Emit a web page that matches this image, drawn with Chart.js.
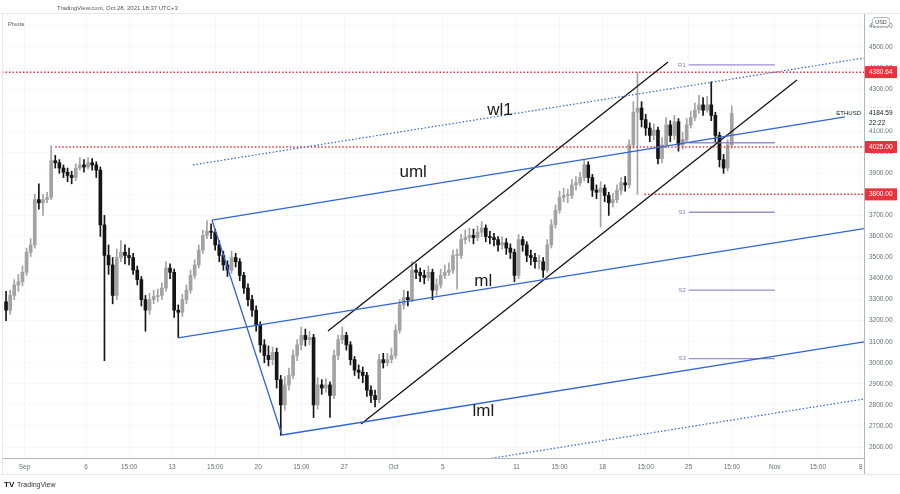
<!DOCTYPE html>
<html>
<head>
<meta charset="utf-8">
<script src="https://cdn.jsdelivr.net/npm/chart.js@4.4.0/dist/chart.umd.min.js"></script>
<style>
  html, body { margin: 0; padding: 0; background: #fff; }
  #wrap { width: 900px; height: 494px; }
</style>
</head>
<body>
<div id="wrap"><canvas id="myChart" width="900" height="494"></canvas></div>
<script>
// ETHUSD, 8h candles. x axis is in days, day 0 = Sep 1 00:00 UTC
const firstDay = -1.5;
const candleDays = 1 / 3;
const firstOpen = 3290;

const closes = [
  3250, 3320, 3370, 3385, 3430, 3525, 3560, 3775, 3760, 3775,
  3785, 3960, 3950, 3925, 3905, 3890, 3880, 3925, 3940, 3930,
  3950, 3940, 3915, 3655, 3510, 3465, 3320, 3500, 3525, 3510,
  3500, 3440, 3395, 3300, 3250, 3300, 3315, 3320, 3355, 3450,
  3430, 3250, 3240, 3300, 3345, 3415, 3465, 3535, 3605, 3625,
  3620, 3560, 3510, 3465, 3440, 3500, 3480, 3415, 3355, 3300,
  3250, 3180, 3085, 3035, 3015, 3050, 2920, 2800, 2895, 2940,
  3035, 3085, 3130, 3110, 3120, 2800, 2895, 2880, 2895, 2845,
  3035, 3110, 3130, 3085, 3015, 2965, 2955, 2940, 2870, 2845,
  2825, 3015, 3000, 3015, 3035, 3155, 3275, 3310, 3300, 3440,
  3430, 3415, 3405, 3430, 3345, 3370, 3415, 3430, 3440, 3510,
  3510, 3585, 3595, 3605, 3595, 3620, 3640, 3600, 3595, 3585,
  3560, 3570, 3545, 3525, 3415, 3585, 3560, 3510, 3500, 3480,
  3480, 3440, 3560, 3655, 3725, 3785, 3795, 3795, 3845, 3855,
  3880, 3940, 3880, 3820, 3810, 3830, 3795, 3760, 3775, 3820,
  3855, 3845, 4035, 4190, 4210, 4155, 4115, 4080, 4105, 3970,
  4035, 4130, 4080, 4145, 4035, 4060, 4130, 4165, 4200, 4225,
  4200, 4225, 4175, 4080, 3965, 3925, 4035, 4184.59
];
const highs = [
  3340, 3345, 3395, 3420, 3460, 3545, 3590, 3800, 3850, 3800,
  3810, 4030, 3985, 3965, 3940, 3925, 3910, 3945, 3975, 3965,
  3975, 3970, 3955, 3930, 3700, 3560, 3500, 3540, 3580, 3560,
  3545, 3520, 3460, 3410, 3320, 3330, 3345, 3350, 3380, 3480,
  3470, 3445, 3275, 3325, 3370, 3440, 3490, 3560, 3630, 3675,
  3660, 3635, 3580, 3530, 3485, 3530, 3520, 3495, 3430, 3375,
  3320, 3270, 3195, 3110, 3080, 3075, 3070, 2940, 2935, 2975,
  3060, 3110, 3170, 3160, 3150, 3135, 2930, 2920, 2925, 2910,
  3060, 3130, 3170, 3145, 3100, 3030, 2990, 2980, 2955, 2890,
  2870, 3040, 3045, 3045, 3070, 3180, 3300, 3345, 3340, 3480,
  3470, 3450, 3440, 3460, 3445, 3400, 3445, 3465, 3475, 3535,
  3540, 3610, 3630, 3640, 3635, 3650, 3670, 3655, 3625, 3615,
  3600, 3600, 3590, 3565, 3540, 3610, 3600, 3575, 3535, 3520,
  3510, 3500, 3585, 3680, 3750, 3815, 3830, 3825, 3870, 3885,
  3905, 3965, 3955, 3895, 3845, 3860, 3845, 3810, 3805, 3845,
  3880, 3885, 4060, 4240, 4380, 4240, 4180, 4140, 4135, 4120,
  4070, 4165, 4150, 4175, 4160, 4095, 4160, 4195, 4235, 4270,
  4260, 4265, 4335, 4190, 4095, 3990, 4060, 4220
];
const lows = [
  3200, 3230, 3300, 3340, 3365, 3415, 3505, 3545, 3730, 3700,
  3760, 3775, 3925, 3900, 3880, 3860, 3850, 3865, 3915, 3905,
  3920, 3915, 3880, 3600, 3010, 3420, 3280, 3300, 3480, 3470,
  3465, 3420, 3370, 3270, 3150, 3230, 3280, 3290, 3300, 3340,
  3400, 3215, 3120, 3220, 3280, 3330, 3400, 3450, 3520, 3590,
  3590, 3535, 3480, 3440, 3410, 3425, 3455, 3390, 3330, 3270,
  3220, 3150, 3050, 3000, 2985, 2990, 2880, 2655, 2775, 2870,
  2925, 3010, 3060, 3080, 3085, 2740, 2780, 2850, 2860, 2740,
  2830, 3015, 3090, 3060, 2990, 2940, 2925, 2905, 2840, 2810,
  2790, 2810, 2975, 2985, 3000, 3020, 3140, 3255, 3270, 3290,
  3400, 3385, 3375, 3390, 3300, 3320, 3355, 3400, 3415, 3425,
  3350, 3495, 3565, 3575, 3565, 3580, 3600, 3575, 3565, 3555,
  3530, 3540, 3515, 3495, 3385, 3400, 3530, 3480, 3465, 3450,
  3445, 3405, 3430, 3545, 3640, 3710, 3765, 3760, 3780, 3820,
  3840, 3865, 3855, 3790, 3780, 3645, 3765, 3700, 3740, 3760,
  3800, 3815, 3830, 4020, 3800, 4120, 4080, 4050, 4060, 3945,
  3950, 4020, 4050, 4060, 4005, 4015, 4045, 4115, 4150, 4185,
  4175, 4190, 4150, 4050, 3930, 3900, 3910, 4020
];

// horizontal levels (red dotted) and the day each one starts
const levelPrices = [4380.64, 4025.0, 3800.0];
const levelFrom = [-1.83, 2.5, 50.4];

// weekly pivots, Oct 25 -> Nov 1
const pivotNames = ["R1", "P", "S1", "S2", "S3"];
const pivotValues = [4415, 4045, 3715, 3345, 3020];
const pivotFrom = 54;
const pivotTo = 61;

// pitchfork and channel, [day, price] end points
const forkHandle = [[15.24, 3678], [20.93, 2657]];
const umlLine = [[15.24, 3678], [66.7, 4168]];
const mlLine = [[12.48, 3118], [68.25, 3637]];
const lmlLine = [[20.93, 2657], [68.25, 3099]];
const wl1Line = [[13.7, 3940], [68.25, 4448]];
const wl2Line = [[36.0, 2528], [68.25, 2828]];
const channelTop = [[24.67, 3151], [52.32, 4429]];
const channelBottom = [[27.36, 2709], [62.8, 4343]];

const noteTexts = ["wl1", "uml", "ml", "lml"];
const noteDays = [38.66, 31.6, 37.3, 37.3];
const notePrices = [4201, 3906, 3389, 2771];

const tickDays = [0, 5, 8.5, 12, 15.5, 19, 22.5, 26, 30, 34, 40, 43.5, 47, 50.5, 54, 57.5, 61, 64.5, 68];
const tickLabels = ["Sep", "6", "15:00", "13", "15:00", "20", "15:00", "27", "Oct", "5", "11", "15:00", "18", "15:00", "25", "15:00", "Nov", "15:00", "8"];
const priceTicks = [2600, 2700, 2800, 2900, 3000, 3100, 3200, 3300, 3400, 3500, 3600, 3700, 3800, 3900, 4000, 4100, 4200, 4300, 4400, 4500, 4600];

const xMin = -1.83, xMax = 68.25;
const yMin = 2547.75, yMax = 4661.5;

const upColor = "#a3a3a3";
const downColor = "#151515";
const blue = "#2f65d6";
const red = "#e8333c";
const purple = "rgba(140,120,200,0.85)";
const tickFont = { family: "Liberation Sans", size: 6.5 };

const candleX = closes.map((c, i) => firstDay + i * candleDays);
// each candle opens at the previous close
const opens = closes.map((c, i) => (i === 0 ? firstOpen : closes[i - 1]));
const candleColor = closes.map((c, i) => (c >= opens[i] ? upColor : downColor));

function seg(points, color, dash, width) {
  return {
    type: "line",
    data: points.map((p) => ({ x: p[0], y: p[1] })),
    borderColor: color,
    borderWidth: width,
    borderDash: dash,
    pointRadius: 0,
    fill: false,
    tension: 0,
    order: 0,
  };
}

const datasets = [
  {
    type: "bar",
    data: candleX.map((x, i) => ({ x: x, y: [lows[i], highs[i]] })),
    backgroundColor: candleColor,
    barThickness: 1,
    grouped: false,
    order: 3,
  },
  {
    type: "bar",
    data: candleX.map((x, i) => ({ x: x, y: [opens[i], closes[i]] })),
    backgroundColor: candleColor,
    barThickness: 3,
    minBarLength: 1,
    grouped: false,
    order: 2,
  },
  seg(forkHandle, blue, [], 1.3),
  seg(umlLine, blue, [], 1.3),
  seg(mlLine, blue, [], 1.3),
  seg(lmlLine, blue, [], 1.3),
  seg(wl1Line, blue, [1.5, 2], 1.2),
  seg(wl2Line, blue, [1.5, 2], 1.2),
  seg(channelTop, "#111", [], 1.3),
  seg(channelBottom, "#111", [], 1.3),
];

levelPrices.forEach((p, i) => {
  datasets.push(seg([[levelFrom[i], p], [xMax, p]], red, [1.5, 2], 1.5));
});
pivotValues.forEach((p) => {
  datasets.push(seg([[pivotFrom, p], [pivotTo, p]], purple, [], 1.4));
});

const overlay = {
  id: "overlay",
  afterDraw(chart) {
    const { ctx, scales } = chart;
    const x = scales.x, y = scales.y;
    ctx.save();

    // frame
    ctx.strokeStyle = "#e6e8ec";
    ctx.lineWidth = 1;
    ctx.beginPath();
    ctx.moveTo(0, 13.5); ctx.lineTo(900, 13.5);
    ctx.moveTo(2.5, 13.5); ctx.lineTo(2.5, 474);
    ctx.moveTo(0, 474.5); ctx.lineTo(900, 474.5);
    ctx.stroke();
    ctx.strokeStyle = "#b2b5be";
    ctx.beginPath();
    ctx.moveTo(864.5, 458); ctx.lineTo(864.5, 474);
    ctx.stroke();

    ctx.textBaseline = "middle";
    ctx.fillStyle = "#555";
    ctx.font = "6px Liberation Sans";
    ctx.textAlign = "left";
    ctx.fillText("TradingView.com, Oct 28, 2021 18:37 UTC+3", 57, 8);
    ctx.fillText("Pivots", 8, 24);

    // notes on the pitchfork lines
    ctx.fillStyle = "#1a1a1a";
    ctx.font = "17px Liberation Sans";
    ctx.textAlign = "center";
    noteTexts.forEach((t, i) => {
      ctx.fillText(t, x.getPixelForValue(noteDays[i]), y.getPixelForValue(notePrices[i]));
    });

    // pivot names
    ctx.fillStyle = "rgba(130,110,195,0.9)";
    ctx.font = "6px Liberation Sans";
    ctx.textAlign = "right";
    pivotNames.forEach((n, i) => {
      ctx.fillText(n, x.getPixelForValue(pivotFrom) - 3, y.getPixelForValue(pivotValues[i]));
    });

    // symbol and last price
    const last = closes[closes.length - 1];
    const lp = y.getPixelForValue(last);
    ctx.fillStyle = "#131722";
    ctx.textAlign = "right";
    ctx.fillText("ETHUSD", 861, lp);
    ctx.fillStyle = "#fff";
    ctx.fillRect(866, lp - 6, 31, 21);
    ctx.fillStyle = "#131722";
    ctx.textAlign = "left";
    ctx.font = "6.5px Liberation Sans";
    ctx.fillText(last.toFixed(2), 869, lp);
    ctx.fillText("22:22", 869, lp + 10);

    // red level labels
    levelPrices.forEach((p) => {
      const py = y.getPixelForValue(p);
      ctx.fillStyle = red;
      ctx.fillRect(865, py - 6, 32, 12);
      ctx.fillStyle = "#fff";
      ctx.fillText(p.toFixed(2), 869, py);
    });

    // USD badge
    ctx.fillStyle = "#fff";
    ctx.strokeStyle = "#b2b5be";
    ctx.beginPath();
    ctx.roundRect(872.5, 17.5, 17, 9, 3);
    ctx.fill();
    ctx.stroke();
    ctx.fillStyle = "#444";
    ctx.textAlign = "center";
    ctx.font = "5.5px Liberation Sans";
    ctx.fillText("USD", 881, 22.5);

    // logo
    ctx.textAlign = "left";
    ctx.fillStyle = "#131722";
    ctx.font = "bold 8px Liberation Sans";
    ctx.fillText("TV", 4, 485);
    ctx.fillStyle = "#333";
    ctx.font = "7px Liberation Sans";
    ctx.fillText("TradingView", 17, 485);
    ctx.restore();
  },
};

new Chart(document.getElementById("myChart"), {
  type: "bar",
  data: { datasets: datasets },
  options: {
    responsive: false,
    animation: false,
    events: [],
    layout: { padding: { left: 2, top: 13, right: 0, bottom: 0 } },
    plugins: { legend: { display: false }, tooltip: { enabled: false } },
    scales: {
      x: {
        type: "linear",
        min: xMin,
        max: xMax,
        offset: false,
        afterFit: (s) => { s.height = 36; },
        afterBuildTicks: (s) => { s.ticks = tickDays.map((v) => ({ value: v })); },
        grid: { color: "rgba(42,46,57,0.035)", drawTicks: false, offset: false },
        border: { color: "#b2b5be" },
        ticks: {
          autoSkip: false,
          maxRotation: 0,
          padding: 5,
          color: "#6a6d78",
          font: tickFont,
          callback: (v, i) => tickLabels[i],
        },
      },
      y: {
        position: "right",
        min: yMin,
        max: yMax,
        afterFit: (s) => { s.width = 36; },
        afterBuildTicks: (s) => { s.ticks = priceTicks.map((v) => ({ value: v })); },
        grid: { color: "rgba(42,46,57,0.035)", drawTicks: false },
        border: { color: "#b2b5be" },
        ticks: {
          padding: 5,
          color: "#6a6d78",
          font: tickFont,
          callback: (v) => Number(v).toFixed(2),
        },
      },
    },
  },
  plugins: [overlay],
});
</script>
</body>
</html>
